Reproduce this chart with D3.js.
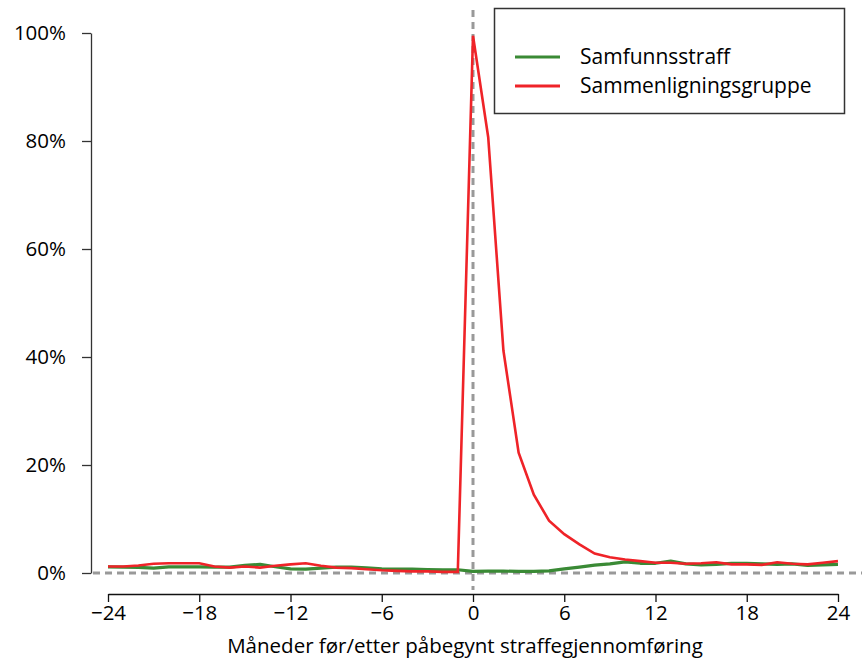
<!DOCTYPE html>
<html>
<head>
<meta charset="utf-8">
<script src="https://cdn.jsdelivr.net/npm/d3@7"></script>
<style>
  html, body { margin: 0; padding: 0; background: #fff; }
  svg { display: block; }
  text { font-family: "Open Sans", "Liberation Sans", sans-serif; fill: #000; }
</style>
</head>
<body>
<svg id="chart" width="862" height="659"></svg>
<script>
// Months relative to start of sentence
const months = d3.range(-24, 25);

// Samfunnsstraff (green), percent
const samfunnsstraff = [
  1.15, 1.1, 1.05, 0.9, 1.15, 1.15, 1.15, 1.1, 1.1, 1.4, 1.6, 1.15,
  0.75, 0.7, 0.9, 1.1, 1.1, 0.95, 0.75, 0.7, 0.7, 0.65, 0.6, 0.6,
  0.3,
  0.35, 0.35, 0.3, 0.3, 0.4, 0.75, 1.1, 1.45, 1.7, 2.05, 1.8, 1.8,
  2.2, 1.7, 1.5, 1.6, 1.8, 1.8, 1.7, 1.6, 1.7, 1.4, 1.5, 1.6
];

// Sammenligningsgruppe (red), percent
const sammenligning = [
  1.2, 1.2, 1.4, 1.7, 1.8, 1.8, 1.8, 1.2, 1.0, 1.2, 1.0, 1.35,
  1.6, 1.8, 1.35, 1.0, 0.9, 0.7, 0.5, 0.4, 0.3, 0.3, 0.2, 0.2,
  99.5,
  80.7, 41.2, 22.3, 14.5, 9.7, 7.2, 5.3, 3.6, 2.9, 2.5, 2.2, 1.9,
  1.9, 1.7, 1.8, 2.0, 1.6, 1.6, 1.5, 2.0, 1.7, 1.6, 1.9, 2.2
];

const seriesNames = ["Samfunnsstraff", "Sammenligningsgruppe"];
const seriesColors = ["#3a8a35", "#ef2328"];
const xTicks = [-24, -18, -12, -6, 0, 6, 12, 18, 24];
const yTicks = [0, 20, 40, 60, 80, 100];
const xTitle = "Måneder før/etter påbegynt straffegjennomføring";

const FS = 20.5;
const svg = d3.select("#chart");

const x = d3.scaleLinear().domain([-24, 24]).range([108, 838]);
const y = d3.scaleLinear().domain([0, 100]).range([573, 33]);

// Reference dashed lines
svg.append("line")
  .attr("x1", 93).attr("x2", 862)
  .attr("y1", y(0)).attr("y2", y(0))
  .attr("stroke", "#999").attr("stroke-width", 3)
  .attr("stroke-dasharray", "7,5");
svg.append("line")
  .attr("x1", x(0)).attr("x2", x(0))
  .attr("y1", 10).attr("y2", 590)
  .attr("stroke", "#999").attr("stroke-width", 3)
  .attr("stroke-dasharray", "7,5");

// Y axis
const yAxis = d3.axisLeft(y)
  .tickValues(yTicks)
  .tickFormat(d => d + "%")
  .tickSize(9).tickSizeOuter(0).tickPadding(16);
const gy = svg.append("g").attr("transform", "translate(91,0)").call(yAxis);
gy.select(".domain").attr("stroke", "#333").attr("stroke-width", 1.3);
gy.selectAll(".tick line").attr("stroke", "#333").attr("stroke-width", 1.3);
gy.selectAll(".tick text").attr("font-size", FS).attr("fill", "#000")
  .attr("font-family", "'Open Sans', sans-serif");

// X axis
const xAxis = d3.axisBottom(x)
  .tickValues(xTicks)
  .tickFormat(d => d < 0 ? "\u2212" + Math.abs(d) : String(d))
  .tickSize(8).tickSizeOuter(0).tickPadding(3);
const gx = svg.append("g").attr("transform", "translate(0,594)").call(xAxis);
gx.select(".domain").attr("stroke", "#111").attr("stroke-width", 1.3);
gx.selectAll(".tick line").attr("stroke", "#111").attr("stroke-width", 1.3);
gx.selectAll(".tick text").attr("font-size", FS).attr("fill", "#000")
  .attr("font-family", "'Open Sans', sans-serif");

svg.append("text")
  .attr("x", 465).attr("y", 653)
  .attr("text-anchor", "middle")
  .attr("font-size", FS)
  .text(xTitle);

// Lines
const line = d3.line().x((d, i) => x(months[i])).y(d => y(d));
svg.append("path").datum(samfunnsstraff)
  .attr("d", line).attr("fill", "none")
  .attr("stroke", seriesColors[0]).attr("stroke-width", 3.2)
  .attr("stroke-linejoin", "round");
svg.append("path").datum(sammenligning)
  .attr("d", line).attr("fill", "none")
  .attr("stroke", seriesColors[1]).attr("stroke-width", 2.6)
  .attr("stroke-linejoin", "miter");

// Legend
const lg = svg.append("g");
lg.append("rect")
  .attr("x", 494.5).attr("y", 8.5).attr("width", 350).attr("height", 105)
  .attr("fill", "#fff").attr("stroke", "#333").attr("stroke-width", 1.5);
seriesNames.forEach((name, i) => {
  const yy = 57 + i * 29;
  lg.append("line")
    .attr("x1", 515).attr("x2", 560).attr("y1", yy).attr("y2", yy)
    .attr("stroke", seriesColors[i]).attr("stroke-width", 3);
  lg.append("text")
    .attr("x", 580).attr("y", yy + 7)
    .attr("font-size", FS + 0.5)
    .text(name);
});
</script>
</body>
</html>
